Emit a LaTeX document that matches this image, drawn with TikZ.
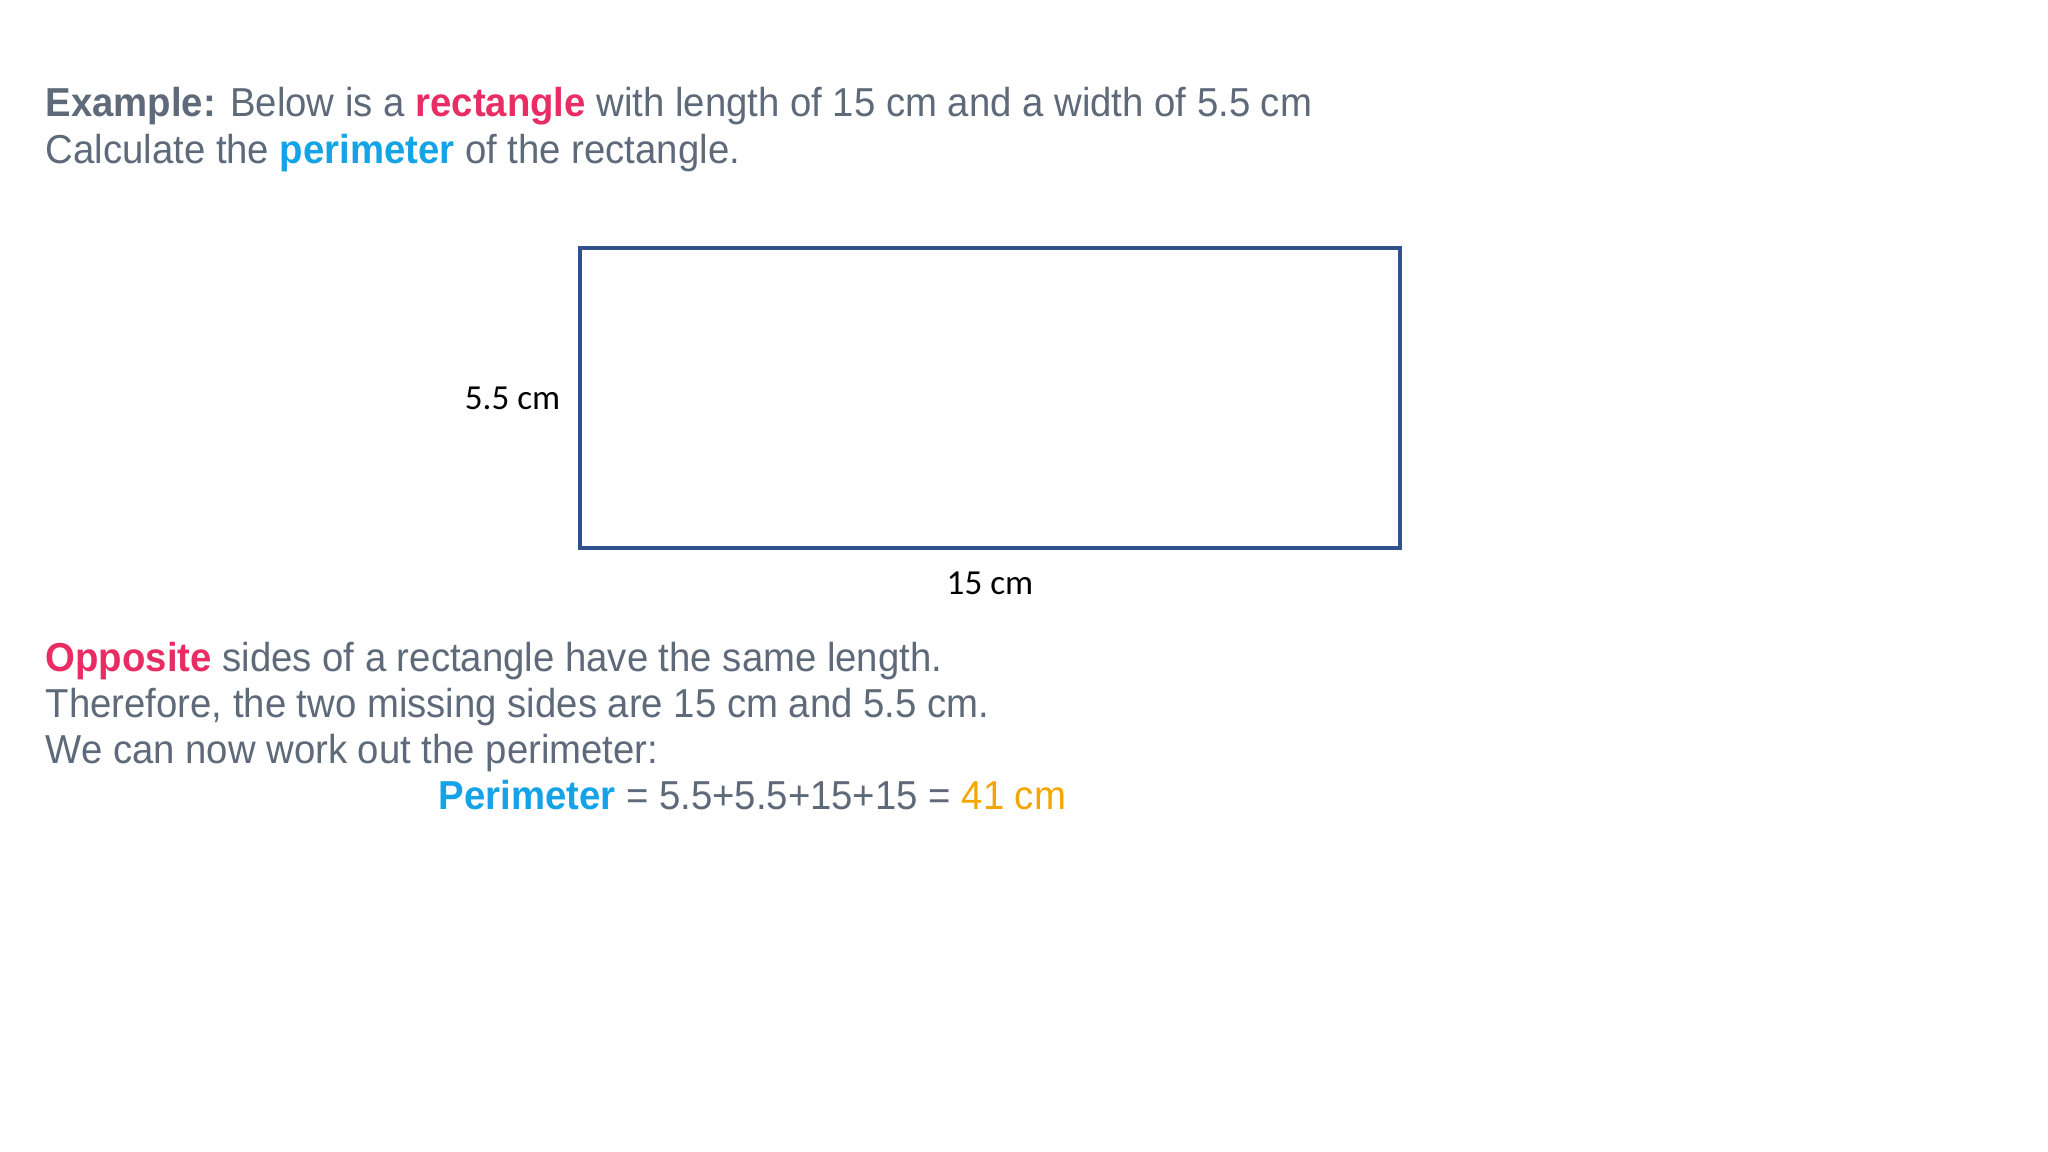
\documentclass[tikz,border=0pt]{standalone}
\usepackage{fontspec}
\setmainfont[FakeStretch=0.948]{Liberation Sans}
\newfontfamily\labelfont{Carlito}
\usetikzlibrary{positioning}
\definecolor{slidegray}{RGB}{94,106,121}
\definecolor{slidepink}{RGB}{233,45,100}
\definecolor{slideblue}{RGB}{20,163,230}
\definecolor{slideorange}{RGB}{245,165,0}
\definecolor{rectblue}{RGB}{47,82,143}
\tikzset{
 line/.style={anchor=base west,inner sep=0pt,text=slidegray,font=\fontsize{11.5}{13.5}\selectfont},
 side/.style={inner sep=0pt,font=\labelfont\fontsize{10}{12}\selectfont,text=black},
}
\newcommand{\hipink}[1]{\textbf{\textcolor{slidepink}{#1}}}
\newcommand{\hiblue}[1]{\textbf{\textcolor{slideblue}{#1}}}
\begin{document}
\begin{tikzpicture}
 \useasboundingbox[fill=white] (0,0) rectangle (20.48,11.52);
 % question
 \node[line] (q1) at (0.45,10.355) {\textbf{Example:} Below is a \hipink{rectangle} with length of 15 cm and a width of 5.5 cm};
 \node[line] (q2) at (0.45,9.885) {Calculate the \hiblue{perimeter} of the rectangle.};
 % the rectangle
 \node[draw=rectblue,line width=1.15pt,minimum width=8.2cm,minimum height=3cm,inner sep=0pt] (rect) at (9.90,7.54) {};
 \node[side,left=0.17cm of rect.west] (w) {5.5 cm};
 \node[side,below=0.21cm of rect.south] (l) {15 cm};
 % working
 \node[line] (a1) at (0.45,4.805) {\hipink{Opposite} sides of a rectangle have the same length.};
 \node[line] (a2) at (0.45,4.345) {Therefore, the two missing sides are 15 cm and 5.5 cm.};
 \node[line] (a3) at (0.45,3.885) {We can now work out the perimeter:};
 \node[line] (a4) at (4.38,3.425) {\hiblue{Perimeter} = 5.5+5.5+15+15 = \textcolor{slideorange}{41 cm}};
\end{tikzpicture}
\end{document}
